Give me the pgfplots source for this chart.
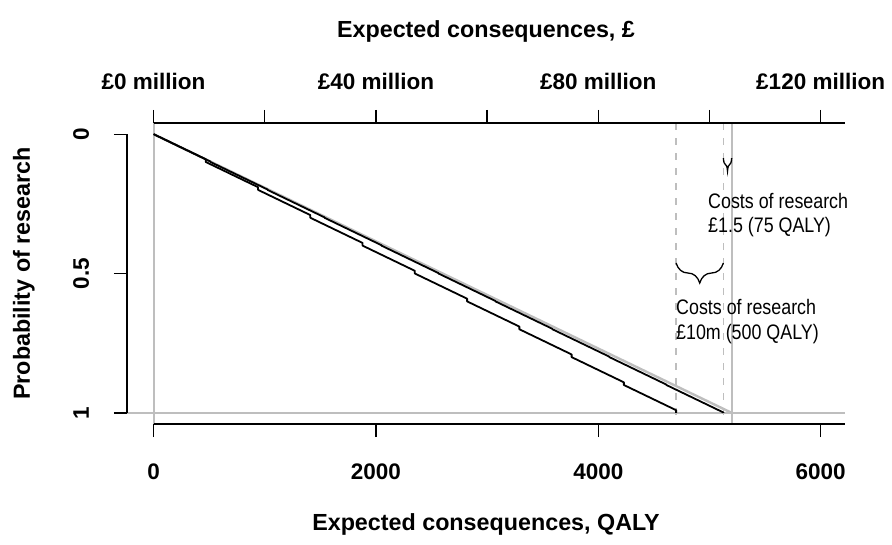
\documentclass[border=0pt]{standalone}
\usepackage{pgfplots}
\pgfplotsset{compat=1.18}
\usepackage{fontspec}
\setmainfont{Liberation Sans}
\newfontfamily\narrowfont{Liberation Sans}[FakeStretch=0.85]
\usetikzlibrary{decorations.pathreplacing}
\definecolor{rgray}{RGB}{190,190,190}
\newcommand{\tfont}{\fontsize{22.5}{26}\selectfont\bfseries}
\newcommand{\lfont}{\fontsize{23.3}{27}\selectfont\bfseries}
\newcommand{\afont}{\narrowfont\fontsize{21}{25}\selectfont}
\pgfplotsset{
  common/.style={at={(0,0)}, anchor=south west, scale only axis,
    width=718pt, height=301pt, xmin=-239.2, xmax=6219.2,
    tick align=outside, major tick length=13pt,
    major tick style={black, line width=1.3pt},
    /pgf/number format/1000 sep={},
    /pgf/number format/assume math mode=true,
    ticklabel style={font=\tfont}},
}
\begin{document}
\begin{tikzpicture}
% main data axis with left y axis
\begin{axis}[common, ymin=-0.04, ymax=1.04, y dir=reverse,
  axis x line=none, axis y line*=left, axis line style={draw=none},
  clip=false,
  ytick={0,0.5,1}, yticklabels={0,0.5,1},
  yticklabel style={rotate=90, anchor=base},
  yticklabel shift=25pt]
  % reference lines
  \addplot[rgray, line width=2pt] coordinates {(0,-0.04) (0,1.04)};
  \addplot[rgray, line width=2pt] coordinates {(5200,-0.04) (5200,1.04)};
  \addplot[rgray, line width=2pt] coordinates {(-239.2,1) (6219.2,1)};
  \addplot[rgray, line width=1.6pt, dash pattern=on 7pt off 8pt] coordinates {(4700,-0.04) (4700,1.04)};
  \addplot[rgray, line width=1.6pt, dash pattern=on 7pt off 8pt] coordinates {(5125,-0.04) (5125,1.04)};
  \addplot[rgray, line width=2.4pt] coordinates {(0,0) (5200,1)};
  % line with 75 QALY research costs
  \addplot[black, line width=1.8pt, line join=round] coordinates {
    (0,0) (512.5,0.09856) (512.5,0.1) (1025,0.19856) (1025,0.2)
    (1537.5,0.29856) (1537.5,0.3) (2050,0.39856) (2050,0.4)
    (2562.5,0.49856) (2562.5,0.5) (3075,0.59856) (3075,0.6)
    (3587.5,0.69856) (3587.5,0.7) (4100,0.79856) (4100,0.8)
    (4612.5,0.89856) (4612.5,0.9) (5125,0.99856) (5125,1)};
  % line with 500 QALY research costs
  \addplot[black, line width=1.8pt, line join=round] coordinates {
    (0,0) (470,0.09038) (470,0.1) (940,0.19038) (940,0.2)
    (1410,0.29038) (1410,0.3) (1880,0.39038) (1880,0.4)
    (2350,0.49038) (2350,0.5) (2820,0.59038) (2820,0.6)
    (3290,0.69038) (3290,0.7) (3760,0.79038) (3760,0.8)
    (4230,0.89038) (4230,0.9) (4700,0.99038) (4700,1)};
  % axis lines (R style, only over tick range)
  \draw[black, line width=1.3pt] (axis cs:-239.2,0) -- (axis cs:-239.2,1);
  \draw[black, line width=1.3pt] (axis cs:0,1.04) -- (axis cs:6219.2,1.04);
  \draw[black, line width=1.3pt] (axis cs:0,-0.04) -- (axis cs:6219.2,-0.04);
  % braces
  \draw[black, line width=1.3pt, decorate, decoration={brace, amplitude=20pt}]
    (axis cs:5125,0.4624) -- (axis cs:4700,0.4624);
  \draw[black, line width=1.3pt, decorate, decoration={brace, amplitude=13pt}]
    (axis cs:5200,0.0858) -- (axis cs:5125,0.0858);
  % annotations
  \node[anchor=base west, inner sep=0pt, font=\afont] at (axis cs:4987,0.2652) {Costs of research};
  \node[anchor=base west, inner sep=0pt, font=\afont] at (axis cs:4987,0.3513) {£1.5 (75 QALY)};
  \node[anchor=base west, inner sep=0pt, font=\afont] at (axis cs:4699,0.6487) {Costs of research};
  \node[anchor=base west, inner sep=0pt, font=\afont] at (axis cs:4699,0.7384) {£10m (500 QALY)};
  % axis titles
  \node[anchor=base, inner sep=0pt, font=\lfont] at (axis cs:2990,1.4205) {Expected consequences, QALY};
  \node[anchor=base, inner sep=0pt, font=\lfont] at (axis cs:2990,-0.3484) {Expected consequences, £};
  \node[anchor=base, rotate=90, inner sep=0pt, font=\lfont] at (axis cs:-1112,0.5) {Probability of research};
\end{axis}
% bottom x axis (QALY)
\begin{axis}[common, ymin=0, ymax=1,
  axis x line*=bottom, axis y line=none, axis line style={draw=none},
  xtick={0,2000,4000,6000},
  xticklabel style={anchor=base}, xticklabel shift=42pt]
\end{axis}
% top x axis (pounds)
\begin{axis}[common, ymin=0, ymax=1,
  axis x line*=top, axis y line=none, axis line style={draw=none},
  xtick={0,1000,2000,3000,4000,5000,6000},
  xticklabels={£0 million,,£40 million,,£80 million,,£120 million},
  xticklabel style={anchor=base}, xticklabel shift=20pt]
\end{axis}
\pgfresetboundingbox
\path[use as bounding box] (-127pt,-120pt) rectangle (765pt,424pt);
\end{tikzpicture}
\end{document}
